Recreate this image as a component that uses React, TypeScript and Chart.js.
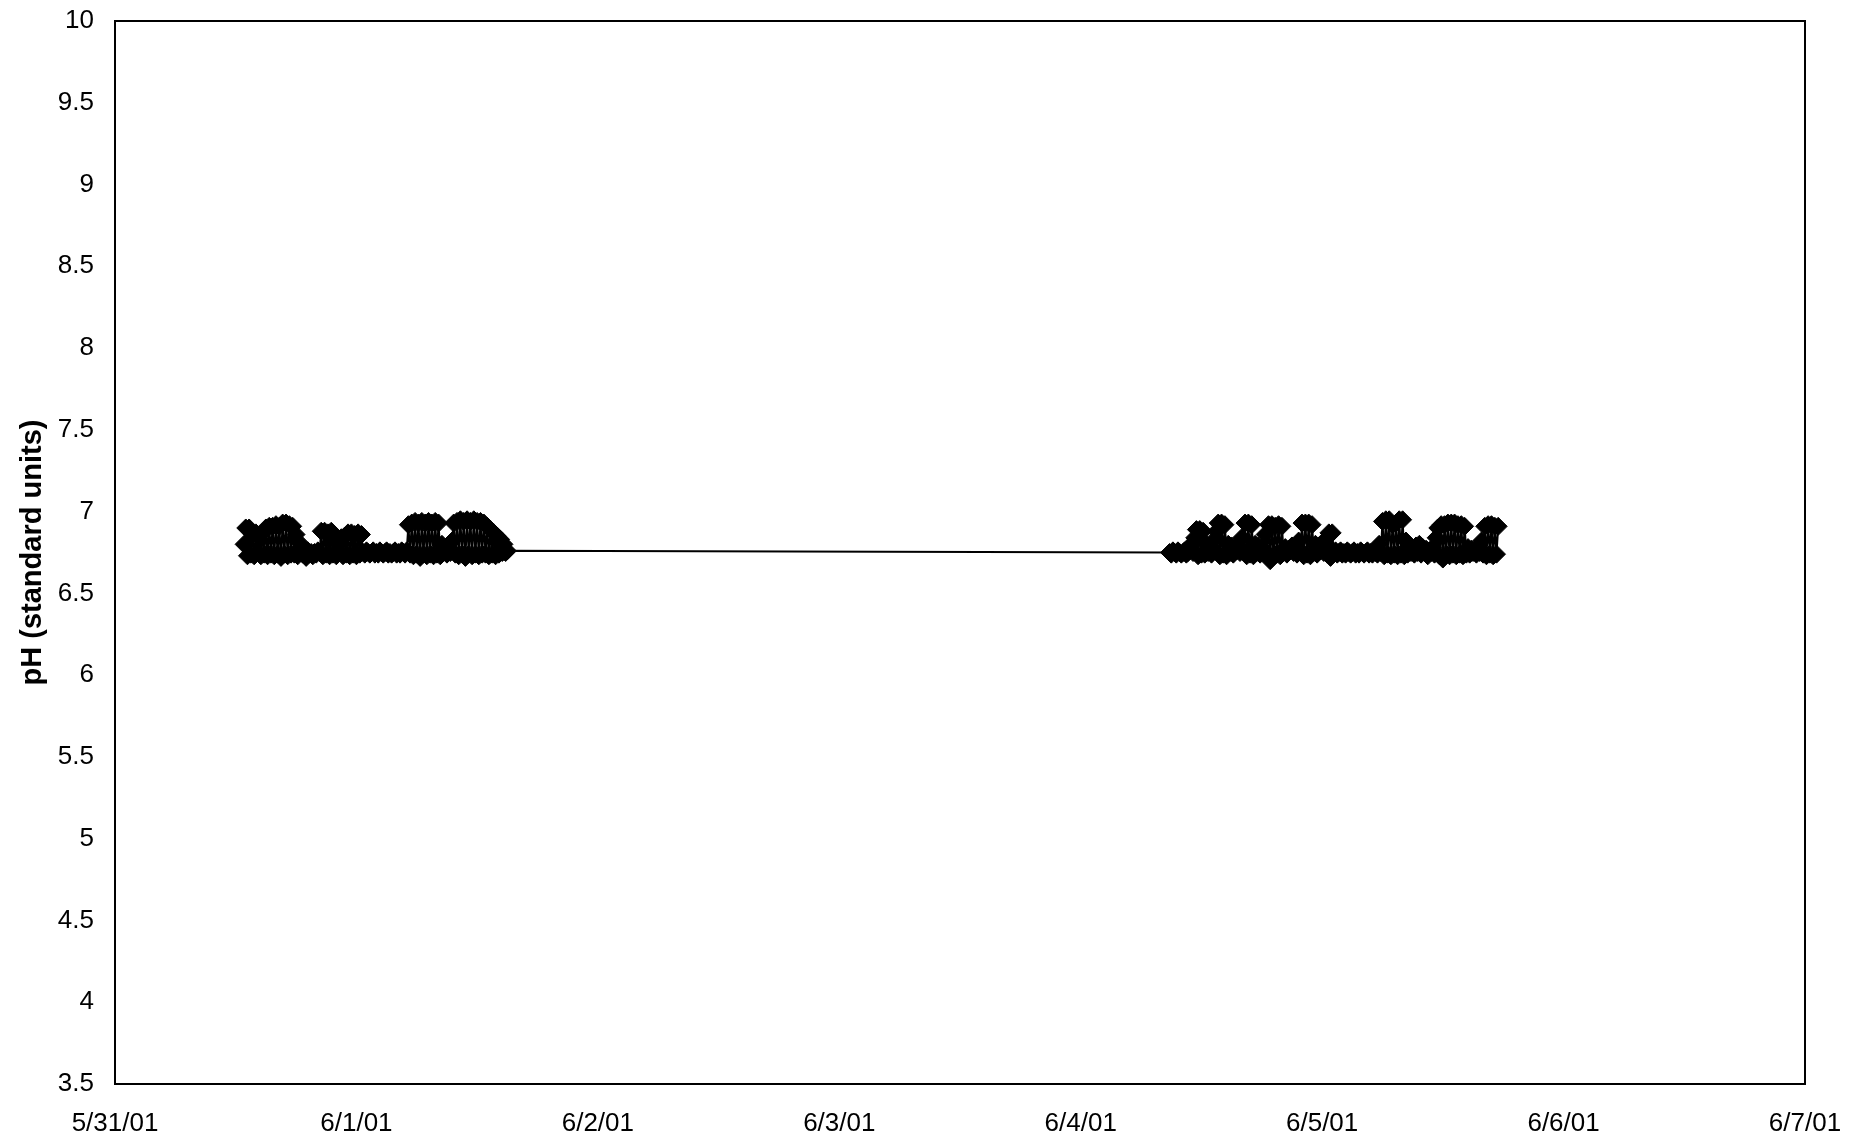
import React, { useEffect, useRef } from "react";
import { Chart, registerables } from "chart.js";

Chart.register(...registerables);

// X axis: one tick per day, 5/31/01 .. 6/7/01
const xTickLabels = ["5/31/01", "6/1/01", "6/2/01", "6/3/01", "6/4/01", "6/5/01", "6/6/01", "6/7/01"];
const yAxisTitle = "pH (standard units)";
const yMin = 3.5;
const yMax = 10;
const yStep = 0.5;

// Logger sampling (minutes) and start of each deployment (hours after 5/31/01 00:00)
const sampleIntervalMinutes = 10;
const firstRunStartHours = 12 + 50 / 60; // 5/31/01 12:50
const secondRunStartHours = 4 * 24 + 8 + 50 / 60; // 6/4/01 08:50

// pH readings, first deployment (10-minute readings)
const firstRunPH = [
  6.80, 6.90, 6.73, 6.90, 6.74,
  6.86, 6.73, 6.87, 6.75, 6.85, 6.73, 6.87, 6.74,
  6.90, 6.73, 6.91, 6.74, 6.91, 6.73, 6.92, 6.74, 6.91, 6.72, 6.93, 6.74, 6.93, 6.73, 6.92, 6.74, 6.91,
  6.74, 6.86, 6.73, 6.81, 6.75,
  6.74, 6.75, 6.72, 6.76, 6.74, 6.75, 6.73, 6.75, 6.74, 6.76, 6.75,
  6.88, 6.73, 6.88, 6.74, 6.87, 6.73, 6.88, 6.74,
  6.84, 6.73, 6.83, 6.75, 6.84, 6.73, 6.85,
  6.74, 6.87, 6.73, 6.87, 6.74, 6.86, 6.73, 6.87, 6.74, 6.86,
  6.75, 6.74, 6.76, 6.75, 6.74, 6.75, 6.76, 6.74, 6.75, 6.74, 6.76, 6.75, 6.74, 6.75,
  6.76, 6.74, 6.75, 6.74, 6.75, 6.76, 6.74, 6.75, 6.74, 6.76, 6.75, 6.74, 6.76,
  6.92, 6.74, 6.93, 6.73, 6.94, 6.74, 6.93, 6.72, 6.94, 6.74, 6.93, 6.73, 6.94, 6.74, 6.93, 6.73, 6.94, 6.74, 6.93, 6.73,
  6.80, 6.75, 6.77, 6.74, 6.78, 6.75, 6.82,
  6.93, 6.74, 6.94, 6.73, 6.95, 6.74, 6.94, 6.72, 6.95, 6.74, 6.94, 6.73, 6.95, 6.74, 6.94, 6.73, 6.94, 6.74,
  6.93, 6.74, 6.91, 6.73, 6.89, 6.74, 6.87, 6.73, 6.85, 6.74, 6.83, 6.75, 6.80, 6.75, 6.76,
];

// pH readings, second deployment (10-minute readings)
const secondRunPH = [
  6.75, 6.74, 6.76, 6.75, 6.74, 6.76, 6.75, 6.74, 6.75, 6.76, 6.74, 6.75, 6.76,
  6.80, 6.75, 6.84,
  6.89, 6.73, 6.89, 6.74, 6.88, 6.74,
  6.80, 6.75, 6.79, 6.74, 6.82, 6.76, 6.88,
  6.93, 6.73, 6.93, 6.74, 6.92, 6.73,
  6.80, 6.75, 6.79, 6.74, 6.78, 6.76, 6.79, 6.75, 6.84, 6.76,
  6.93, 6.73, 6.93, 6.74, 6.92, 6.73,
  6.80, 6.75, 6.79, 6.74, 6.78, 6.76, 6.86, 6.75,
  6.92, 6.70, 6.92, 6.73, 6.91, 6.74, 6.92, 6.73, 6.91,
  6.75, 6.78, 6.74, 6.77, 6.76, 6.79, 6.75, 6.78, 6.74, 6.82, 6.76,
  6.93, 6.73, 6.93, 6.74, 6.93, 6.73, 6.92,
  6.75, 6.80, 6.74, 6.79, 6.76, 6.80, 6.75, 6.83, 6.74,
  6.87, 6.72, 6.87, 6.75,
  6.76, 6.74, 6.75, 6.76, 6.74, 6.75, 6.74, 6.76, 6.75, 6.74, 6.75, 6.76, 6.74, 6.75,
  6.74, 6.76, 6.75, 6.74, 6.75, 6.76, 6.74, 6.75, 6.74, 6.76, 6.75, 6.74, 6.80, 6.75,
  6.94, 6.73, 6.95, 6.74, 6.95, 6.73, 6.92, 6.74, 6.93, 6.73, 6.95, 6.74, 6.95, 6.73,
  6.82, 6.74, 6.78, 6.75, 6.77, 6.74, 6.79, 6.75, 6.80, 6.74, 6.78, 6.75, 6.77, 6.73, 6.76, 6.75, 6.78, 6.74, 6.84,
  6.90, 6.73, 6.92, 6.71, 6.92, 6.74, 6.93, 6.73, 6.93, 6.74, 6.93, 6.73, 6.92, 6.74, 6.92, 6.73, 6.91, 6.74,
  6.78, 6.74, 6.77, 6.75, 6.76, 6.74, 6.78, 6.75, 6.82, 6.74,
  6.91, 6.73, 6.92, 6.74, 6.92, 6.73, 6.91, 6.74, 6.91,
];

const FONT_FAMILY = "'Liberation Sans', Arial, Helvetica, sans-serif";

export default function App() {
  const canvasRef = useRef<HTMLCanvasElement>(null);

  useEffect(() => {
    if (!canvasRef.current) return;
    const toPoints = (startHours: number, values: number[]) =>
      values.map((v, i) => ({ x: (startHours + (i * sampleIntervalMinutes) / 60) / 24, y: v }));
    const data = [
      ...toPoints(firstRunStartHours, firstRunPH),
      ...toPoints(secondRunStartHours, secondRunPH),
    ];

    const framePlugin = {
      id: "frame",
      beforeDatasetsDraw(chart: any) {
        const { ctx, chartArea } = chart;
        const { left, top, right, bottom } = chartArea;
        ctx.save();
        ctx.strokeStyle = "#000";
        ctx.lineWidth = 2;
        ctx.strokeRect(left, top, right - left, bottom - top);
        ctx.restore();
      },
    };

    const chart = new Chart(canvasRef.current, {
      type: "line",
      data: {
        datasets: [
          {
            data,
            borderColor: "#000",
            borderWidth: 2,
            pointStyle: "rectRot",
            pointRadius: 9,
            pointBackgroundColor: "#000",
            pointBorderColor: "#000",
            pointBorderWidth: 1,
            tension: 0,
          },
        ],
      },
      options: {
        animation: false,
        responsive: false,
        layout: { padding: { top: 21, right: 44, bottom: 0, left: 0 } },
        plugins: { legend: { display: false }, tooltip: { enabled: false } },
        scales: {
          x: {
            type: "linear",
            min: 0,
            max: xTickLabels.length - 1,
            grid: { display: false, drawTicks: false },
            border: { display: false },
            ticks: {
              stepSize: 1,
              autoSkip: false,
              maxRotation: 0,
              padding: 24,
              color: "#000",
              font: { family: FONT_FAMILY, size: 26 },
              callback: (v: any) => xTickLabels[Math.round(Number(v))] ?? "",
            },
            afterFit: (s: any) => {
              s.height = 56;
              s.paddingLeft = 0;
              s.paddingRight = 0;
            },
          },
          y: {
            min: yMin,
            max: yMax,
            grid: { display: false, drawTicks: false },
            border: { display: false },
            ticks: {
              stepSize: yStep,
              padding: 21,
              color: "#000",
              font: { family: FONT_FAMILY, size: 26 },
              callback: (v: any) => String(Number(v)),
            },
            title: {
              display: true,
              text: yAxisTitle,
              color: "#000",
              font: { family: FONT_FAMILY, size: 29, weight: "bold" },
              padding: { top: 16, bottom: 0 },
            },
            afterFit: (s: any) => {
              s.width = 115;
              s.paddingTop = 0;
              s.paddingBottom = 0;
            },
          },
        },
      },
      plugins: [framePlugin],
    } as any);

    return () => chart.destroy();
  }, []);

  return (
    <div style={{ position: "absolute", left: 0, top: 0, width: 1849, height: 1140, background: "#fff" }}>
      <canvas ref={canvasRef} width={1849} height={1140} />
    </div>
  );
}
